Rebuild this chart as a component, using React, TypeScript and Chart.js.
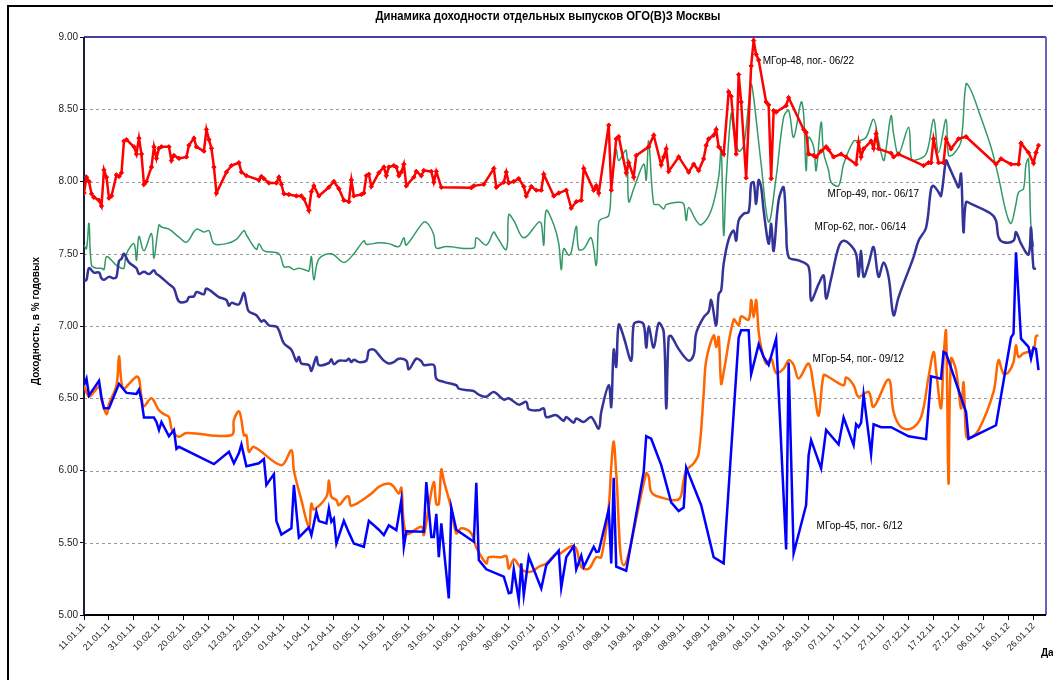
import React, { useEffect, useRef } from "react";
import { Chart, registerables } from "chart.js";

Chart.register(...registerables);

// x = days since 11.01.2011, y = yield, % p.a.
const START_YEAR = 2011;
const START_MONTH = 0;
const START_DAY = 11;
const X_MIN = 0;
const X_MAX = 385;
const X_STEP = 10;
const Y_MIN = 5;
const Y_MAX = 9;
const Y_STEP = 0.5;

const TITLE = "Динамика доходности отдельных выпусков ОГО(В)З Москвы";
const Y_TITLE = "Доходность, в % годовых";
const X_TITLE = "Дата";

const seriesNames = [
  "МГор-48, пог.- 06/22",
  "МГор-45, пог.- 6/12",
  "МГор-62, пог.- 06/14",
  "МГор-54, пог.- 09/12",
  "МГор-49, пог.- 06/17",
];

const m48: [number, number][] = [[0,7.92],[1,8.03],[2,8.00],[3,7.915],[4,7.89],[6,7.87],[7,7.83],[8,8.08],[9,8.03],[10,7.885],[11,7.90],[13,8.045],[14,8.035],[15,8.06],[16,8.28],[17,8.29],[20,8.24],[21,8.19],[22,8.30],[23,8.19],[24,7.98],[25,8.00],[27,8.10],[28,8.24],[29,8.16],[30,8.23],[31,8.24],[34,8.24],[35,8.145],[36,8.18],[38,8.16],[41,8.17],[42,8.25],[44,8.30],[45,8.24],[48,8.21],[49,8.36],[50,8.29],[51,8.23],[52,8.10],[53,7.92],[57,8.065],[59,8.11],[62,8.13],[63,8.065],[65,8.04],[70,8.01],[71,8.035],[72,8.02],[74,7.99],[77,7.99],[78,8.03],[79,7.98],[80,7.915],[82,7.91],[85,7.90],[87,7.90],[88,7.88],[90,7.80],[91,7.93],[92,7.97],[94,7.90],[98,7.96],[100,8.00],[102,7.95],[104,7.87],[106,7.86],[107,8.01],[108,7.90],[111,7.91],[112,7.92],[113,8.04],[114,8.05],[115,7.965],[118,8.06],[120,8.10],[121,8.04],[122,8.10],[124,8.11],[125,8.10],[126,8.04],[127,8.065],[128,8.12],[129,7.97],[132,8.03],[133,8.07],[135,8.04],[136,8.076],[139,8.07],[140,7.995],[141,8.07],[143,7.96],[155,7.956],[156,7.97],[160,7.98],[164,8.09],[165,7.96],[168,7.995],[169,8.065],[170,7.99],[172,8.00],[174,8.02],[176,7.965],[177,7.90],[179,7.965],[181,7.94],[183,7.94],[184,8.05],[188,7.90],[190,7.92],[193,7.94],[195,7.816],[197,7.86],[199,7.87],[200,8.09],[204,7.94],[205,7.97],[206,7.92],[210,8.39],[211,7.94],[213,8.295],[214,8.31],[217,8.06],[218,8.13],[220,8.03],[221,8.18],[226,8.24],[228,8.32],[231,8.115],[232,8.17],[233,8.226],[234,8.07],[238,8.17],[242,8.065],[244,8.12],[246,8.076],[248,8.157],[249,8.25],[250,8.295],[252,8.32],[253,8.36],[254,8.24],[256,8.19],[258,8.62],[259,8.59],[261,8.19],[262,8.74],[263,8.55],[265,8.025],[267,8.80],[268,8.975],[269,8.88],[270,8.84],[273,8.55],[274,8.53],[275,8.02],[276,8.49],[277,8.48],[281,8.525],[282,8.58],[288,8.36],[289,8.34],[290,8.19],[292,8.18],[293,8.17],[295,8.21],[297,8.24],[298,8.22],[300,8.17],[303,8.19],[305,8.17],[309,8.12],[310,8.27],[311,8.17],[312,8.226],[315,8.28],[316,8.23],[317,8.33],[318,8.226],[323,8.196],[324,8.17],[326,8.19],[336,8.11],[338,8.13],[339,8.13],[340,8.295],[342,8.13],[344,8.13],[345,8.295],[347,8.226],[350,8.295],[353,8.31],[365,8.12],[367,8.157],[371,8.12],[374,8.12],[375,8.265],[378,8.20],[380,8.127],[381,8.20],[382,8.25]];

const m49: [number, number][] = [[0,7.56],[1,7.535],[2,7.71],[3,7.42],[5,7.40],[7,7.40],[8,7.39],[9,7.48],[11,7.455],[13,7.42],[15,7.40],[16,7.40],[17,7.50],[20,7.57],[21,7.455],[22,7.62],[24,7.52],[27,7.64],[28,7.47],[30,7.70],[31,7.685],[34,7.67],[38,7.615],[41,7.58],[45,7.67],[48,7.65],[50,7.66],[52,7.57],[57,7.57],[61,7.60],[64,7.66],[65,7.63],[69,7.53],[70,7.57],[72,7.52],[78,7.50],[80,7.41],[82,7.41],[84,7.39],[86,7.40],[89,7.385],[90,7.38],[91,7.48],[92,7.32],[94,7.465],[99,7.50],[104,7.44],[108,7.50],[112,7.59],[113,7.565],[118,7.576],[122,7.57],[126,7.55],[128,7.61],[129,7.56],[136,7.72],[138,7.70],[140,7.63],[141,7.54],[145,7.55],[156,7.54],[157,7.61],[161,7.56],[164,7.65],[165,7.625],[169,7.53],[170,7.77],[172,7.73],[176,7.61],[182,7.72],[183,7.71],[184,7.56],[185,7.80],[188,7.70],[190,7.57],[191,7.39],[192,7.535],[194,7.49],[195,7.51],[197,7.69],[198,7.53],[200,7.535],[203,7.61],[205,7.42],[206,7.72],[207,7.74],[210,7.765],[211,7.96],[213,8.22],[214,8.145],[217,8.215],[218,7.86],[220,7.95],[224,8.12],[225,8.01],[226,8.28],[228,7.845],[230,7.84],[232,7.81],[233,7.84],[238,7.857],[240,7.845],[241,7.73],[242,7.82],[245,7.73],[247,7.70],[251,7.80],[254,8.03],[255,8.237],[256,7.627],[257,8.006],[259,8.47],[260,8.35],[262,8.21],[264,8.25],[266,8.54],[267,8.675],[268,8.58],[271,8.12],[274,7.72],[277,8.03],[280,8.445],[282,8.49],[284,8.306],[287,8.55],[288,8.47],[289,8.076],[290,8.306],[292,8.24],[293,8.076],[295,8.41],[296,8.20],[298,8.076],[299,7.995],[302,7.97],[304,8.12],[308,8.28],[310,8.28],[313,8.306],[316,8.43],[318,8.28],[320,8.145],[321,8.226],[323,8.456],[324,8.33],[326,8.19],[330,8.376],[331,8.17],[332,8.145],[337,8.19],[340,8.43],[342,8.20],[345,8.43],[346,8.18],[348,8.19],[351,8.28],[353,8.675],[355,8.63],[358,8.49],[363,8.237],[366,8.03],[369,7.79],[371,7.71],[373,7.845],[374,7.925],[376,7.95],[377,8.12],[378,8.157],[379,7.68],[380,7.55]];

const m62: [number, number][] = [[0,7.31],[1,7.32],[2,7.40],[4,7.37],[6,7.37],[7,7.33],[8,7.32],[10,7.34],[12,7.33],[13,7.34],[14,7.45],[15,7.465],[16,7.50],[18,7.44],[21,7.40],[22,7.36],[24,7.375],[26,7.36],[28,7.385],[29,7.36],[30,7.35],[34,7.29],[36,7.26],[38,7.17],[41,7.17],[42,7.20],[44,7.205],[45,7.235],[48,7.22],[49,7.26],[54,7.20],[57,7.18],[58,7.14],[59,7.16],[62,7.15],[64,7.23],[65,7.155],[66,7.10],[69,7.075],[71,7.03],[72,7.04],[74,7.005],[77,6.995],[78,6.97],[80,6.88],[83,6.836],[85,6.756],[86,6.786],[87,6.74],[90,6.73],[91,6.69],[93,6.786],[94,6.73],[98,6.744],[99,6.77],[100,6.735],[102,6.76],[105,6.76],[106,6.774],[107,6.75],[108,6.767],[110,6.75],[113,6.76],[114,6.83],[116,6.836],[118,6.80],[120,6.76],[122,6.74],[124,6.75],[126,6.774],[129,6.76],[130,6.70],[133,6.774],[135,6.756],[136,6.73],[140,6.73],[141,6.636],[144,6.613],[149,6.59],[150,6.567],[154,6.555],[156,6.55],[158,6.525],[161,6.51],[164,6.544],[168,6.49],[170,6.50],[174,6.456],[177,6.475],[178,6.424],[182,6.417],[184,6.43],[185,6.37],[189,6.383],[192,6.343],[193,6.37],[196,6.33],[197,6.36],[200,6.336],[203,6.37],[206,6.29],[207,6.405],[210,6.59],[211,6.44],[212,6.836],[213,6.717],[214,7.01],[216,6.924],[219,6.76],[220,7.01],[222,7.03],[224,7.01],[225,6.85],[226,6.998],[228,6.85],[230,7.02],[232,6.96],[233,6.43],[234,6.924],[235,6.93],[238,6.84],[242,6.76],[244,6.80],[245,6.95],[248,7.06],[250,7.10],[251,7.18],[253,7.005],[254,7.22],[255,7.246],[256,7.43],[258,7.60],[260,7.66],[261,7.59],[262,7.73],[264,7.777],[266,7.79],[267,7.985],[268,7.995],[269,7.845],[270,8.01],[271,7.96],[272,7.80],[274,7.57],[275,7.707],[276,7.52],[278,7.87],[280,7.96],[281,7.68],[282,7.477],[286,7.454],[290,7.41],[291,7.177],[294,7.29],[296,7.35],[297,7.19],[299,7.327],[302,7.546],[304,7.59],[307,7.557],[309,7.50],[310,7.343],[311,7.52],[312,7.34],[314,7.43],[316,7.546],[318,7.34],[320,7.44],[322,7.34],[324,7.074],[326,7.20],[332,7.477],[334,7.59],[337,7.68],[339,7.95],[340,7.97],[342,7.926],[343,7.90],[345,8.145],[346,8.11],[349,7.995],[350,7.96],[351,8.053],[352,7.65],[353,7.857],[355,7.845],[363,7.777],[365,7.73],[366,7.615],[368,7.58],[372,7.59],[373,7.65],[375,7.57],[378,7.495],[379,7.68],[380,7.40],[381,7.396]];

const m54: [number, number][] = [[0,6.59],[2,6.51],[4,6.544],[6,6.58],[7,6.49],[9,6.39],[10,6.46],[13,6.59],[14,6.79],[15,6.61],[16,6.567],[18,6.60],[21,6.65],[22,6.636],[23,6.51],[24,6.445],[27,6.50],[30,6.417],[32,6.39],[34,6.37],[35,6.29],[36,6.26],[38,6.233],[41,6.26],[59,6.244],[60,6.35],[62,6.41],[63,6.35],[64,6.244],[65,6.244],[66,6.13],[68,6.164],[79,6.037],[83,6.14],[84,6.00],[87,5.795],[90,5.61],[91,5.77],[92,5.73],[97,5.818],[98,5.93],[99,5.818],[101,5.795],[102,5.76],[105,5.818],[106,5.818],[107,5.756],[115,5.84],[118,5.887],[122,5.91],[124,5.887],[126,5.84],[127,5.88],[129,5.565],[135,5.61],[136,5.553],[138,5.75],[140,5.92],[141,5.767],[142,5.767],[143,6.007],[144,5.93],[147,5.737],[149,5.565],[151,5.60],[155,5.565],[157,5.468],[161,5.357],[162,5.40],[167,5.40],[169,5.408],[170,5.32],[172,5.385],[174,5.345],[176,5.306],[179,5.30],[182,5.334],[185,5.357],[189,5.426],[190,5.42],[195,5.477],[197,5.46],[199,5.334],[202,5.32],[205,5.40],[207,5.40],[210,5.75],[211,6.025],[212,6.20],[213,5.98],[216,5.345],[225,5.98],[226,5.96],[227,5.853],[230,5.818],[238,5.80],[240,5.933],[241,6.00],[244,6.05],[246,6.118],[248,6.53],[249,6.76],[252,6.935],[253,6.855],[254,6.924],[255,6.60],[256,6.68],[260,7.044],[262,7.005],[263,7.067],[266,7.044],[267,7.18],[268,7.06],[269,7.18],[270,6.96],[271,6.855],[273,6.74],[275,6.775],[277,6.675],[280,6.705],[282,6.763],[284,6.73],[286,6.636],[290,6.74],[292,6.58],[294,6.38],[296,6.66],[298,6.647],[304,6.59],[305,6.643],[308,6.59],[310,6.51],[314,6.544],[316,6.44],[322,6.63],[324,6.405],[327,6.30],[331,6.29],[335,6.37],[338,6.647],[340,6.82],[341,6.694],[343,6.43],[344,6.774],[345,6.965],[346,5.91],[347,6.774],[349,6.694],[351,6.43],[352,6.61],[353,6.244],[354,6.22],[358,6.28],[364,6.544],[366,6.763],[368,6.67],[370,6.68],[372,6.75],[373,6.866],[374,6.786],[376,6.81],[380,6.84],[381,6.93],[382,6.935]];

const m45: [number, number][] = [[0,6.59],[1,6.636],[2,6.52],[4,6.57],[6,6.62],[7,6.505],[8,6.43],[10,6.43],[14,6.60],[17,6.537],[21,6.53],[22,6.56],[23,6.486],[24,6.366],[28,6.366],[29,6.336],[30,6.28],[31,6.336],[34,6.237],[36,6.28],[37,6.15],[38,6.164],[52,6.044],[58,6.13],[60,6.05],[62,6.12],[63,6.18],[65,6.03],[70,6.05],[72,6.08],[73,5.90],[76,5.975],[77,5.65],[79,5.557],[83,5.60],[84,5.90],[86,5.537],[90,5.606],[91,5.553],[93,5.714],[94,5.65],[97,5.634],[98,5.737],[99,5.645],[100,5.668],[101,5.495],[104,5.652],[106,5.57],[108,5.495],[112,5.472],[114,5.652],[118,5.59],[120,5.553],[122,5.62],[125,5.587],[127,5.795],[128,5.472],[129,5.58],[136,5.576],[137,5.92],[139,5.54],[140,5.54],[141,5.70],[142,5.40],[143,5.634],[146,5.115],[147,5.744],[149,5.59],[156,5.507],[157,5.915],[158,5.38],[161,5.316],[168,5.265],[170,5.15],[171,5.155],[172,5.316],[174,5.104],[175,5.357],[176,5.138],[178,5.403],[183,5.184],[185,5.345],[190,5.445],[191,5.19],[193,5.40],[196,5.477],[197,5.316],[199,5.41],[200,5.334],[204,5.472],[205,5.437],[206,5.44],[210,5.73],[211,5.357],[212,5.95],[213,5.334],[217,5.306],[224,5.99],[225,6.237],[227,6.22],[231,6.037],[235,5.78],[238,5.72],[240,5.744],[241,6.02],[247,5.76],[252,5.40],[256,5.357],[262,6.92],[263,6.97],[266,6.97],[267,6.666],[270,6.873],[272,6.786],[274,6.73],[277,6.912],[281,5.454],[282,6.747],[284,5.426],[289,5.76],[290,6.106],[291,6.21],[295,6.014],[297,6.28],[302,6.18],[304,6.366],[308,6.175],[309,6.32],[310,6.30],[311,6.33],[312,6.525],[315,6.113],[316,6.32],[319,6.30],[323,6.30],[330,6.237],[337,6.217],[339,6.652],[343,6.636],[344,6.82],[345,6.81],[353,6.405],[354,6.22],[365,6.313],[371,6.92],[372,6.947],[373,7.51],[375,6.912],[378,6.855],[379,6.774],[380,6.85],[381,6.84],[382,6.694]];

const seriesData = [m48, m45, m62, m54, m49];
const seriesColors = ["#FF0000", "#0000FF", "#333399", "#FF6600", "#339966"];
const seriesWidths = [2.5, 2.5, 2.5, 2.5, 1.5];
const seriesTension = [0, 0, 0.35, 0.35, 0.35];
const seriesMarkers = [true, false, false, false, false];
// label anchor in data units: [day, yield]
const labelAnchors: [number, number][] = [
  [271.6, 8.83],
  [293.2, 5.616],
  [292.4, 7.68],
  [291.6, 6.77],
  [297.6, 7.91],
];

function fmtDate(n: number): string {
  const d = new Date(START_YEAR, START_MONTH, START_DAY + Math.round(n));
  const dd = String(d.getDate()).padStart(2, "0");
  const mm = String(d.getMonth() + 1).padStart(2, "0");
  const yy = String(d.getFullYear() % 100).padStart(2, "0");
  return `${dd}.${mm}.${yy}`;
}

const FONT = "'Liberation Sans', Arial, sans-serif";

const decorPlugin = {
  id: "decor",
  beforeDraw(chart: any) {
    const ctx = chart.ctx as CanvasRenderingContext2D;
    ctx.save();
    ctx.fillStyle = "#ffffff";
    ctx.fillRect(0, 0, chart.width, chart.height);
    // outer frame
    ctx.strokeStyle = "#000000";
    ctx.lineWidth = 2;
    ctx.beginPath();
    ctx.moveTo(8, chart.height + 10);
    ctx.lineTo(8, 6);
    ctx.lineTo(chart.width + 10, 6);
    ctx.stroke();
    // title
    ctx.fillStyle = "#000000";
    ctx.font = `bold 12px ${FONT}`;
    ctx.textBaseline = "middle";
    ctx.textAlign = "center";
    const tw = ctx.measureText(TITLE).width;
    const sx = 345 / tw;
    ctx.save();
    ctx.translate(548, 17);
    ctx.scale(sx, 1);
    ctx.fillText(TITLE, 0, 0);
    ctx.restore();
    // y title
    ctx.save();
    ctx.font = `bold 10px ${FONT}`;
    ctx.translate(36, 321);
    ctx.rotate(-Math.PI / 2);
    ctx.fillText(Y_TITLE, 0, 0);
    ctx.restore();
    // x title (cut by the edge)
    ctx.font = `bold 10px ${FONT}`;
    ctx.textAlign = "left";
    ctx.fillText(X_TITLE, 1041, 653);
    ctx.restore();
  },
  beforeDatasetsDraw(chart: any) {
    const ctx = chart.ctx as CanvasRenderingContext2D;
    const a = chart.chartArea;
    const ys = chart.scales.y;
    ctx.save();
    ctx.strokeStyle = "#9a9a9a";
    ctx.lineWidth = 1;
    ctx.setLineDash([3, 3]);
    for (let v = Y_MIN + Y_STEP; v < Y_MAX - 1e-6; v += Y_STEP) {
      const y = Math.round(ys.getPixelForValue(v)) + 0.5;
      ctx.beginPath();
      ctx.moveTo(a.left, y);
      ctx.lineTo(a.right, y);
      ctx.stroke();
    }
    ctx.setLineDash([]);
    // plot borders
    ctx.strokeStyle = "#000080";
    ctx.lineWidth = 1.5;
    ctx.beginPath();
    ctx.moveTo(a.left, a.top);
    ctx.lineTo(a.right, a.top);
    ctx.stroke();
    ctx.strokeStyle = "#6464c4";
    ctx.lineWidth = 2;
    ctx.beginPath();
    ctx.moveTo(a.right, a.top);
    ctx.lineTo(a.right, a.bottom);
    ctx.stroke();
    ctx.strokeStyle = "#1c1c3c";
    ctx.lineWidth = 2;
    ctx.beginPath();
    ctx.moveTo(a.left, a.top);
    ctx.lineTo(a.left, a.bottom);
    ctx.stroke();
    ctx.strokeStyle = "#000000";
    ctx.beginPath();
    ctx.moveTo(a.left, a.bottom);
    ctx.lineTo(a.right, a.bottom);
    ctx.stroke();
    ctx.restore();
  },
  afterDatasetsDraw(chart: any) {
    const ctx = chart.ctx as CanvasRenderingContext2D;
    const xs = chart.scales.x;
    const ys = chart.scales.y;
    ctx.save();
    ctx.fillStyle = "#000000";
    ctx.font = `10px ${FONT}`;
    ctx.textAlign = "left";
    ctx.textBaseline = "middle";
    seriesNames.forEach((name, i) => {
      const [dx, dy] = labelAnchors[i];
      ctx.fillText(name, xs.getPixelForValue(dx), ys.getPixelForValue(dy));
    });
    ctx.restore();
  },
};

export default function App() {
  const ref = useRef<HTMLCanvasElement | null>(null);
  useEffect(() => {
    if (!ref.current) return;
    const datasets = seriesData.map((s, i) => ({
      label: seriesNames[i],
      data: s.map(([x, y]) => ({ x, y })),
      borderColor: seriesColors[i],
      backgroundColor: seriesColors[i],
      borderWidth: seriesWidths[i],
      tension: seriesTension[i],
      pointRadius: seriesMarkers[i] ? 2.2 : 0,
      pointStyle: "rectRot",
      pointBorderWidth: 1,
      pointBorderColor: seriesColors[i],
      pointBackgroundColor: seriesColors[i],
      fill: false,
      order: i,
    }));
    const chart = new Chart(ref.current, {
      type: "line",
      data: { datasets },
      plugins: [decorPlugin],
      options: {
        animation: false,
        responsive: false,
        maintainAspectRatio: false,
        devicePixelRatio: 1,
        layout: { padding: { top: 37, right: 7, left: 0, bottom: 0 } },
        plugins: {
          legend: { display: false },
          tooltip: { enabled: false },
          title: { display: false },
        },
        scales: {
          x: {
            type: "linear",
            min: X_MIN,
            max: X_MAX,
            grid: { display: true, drawOnChartArea: false, drawTicks: true, tickLength: 5, color: "#000", lineWidth: 1 },
            border: { display: false },
            ticks: {
              stepSize: X_STEP,
              includeBounds: false,
              autoSkip: false,
              minRotation: 45,
              maxRotation: 45,
              padding: 1,
              color: "#222",
              font: { family: FONT, size: 9 },
              callback: (v: any) => fmtDate(Number(v)),
            },
            afterFit: (scale: any) => {
              scale.height = 65;
              scale.paddingLeft = 0;
              scale.paddingRight = 0;
            },
          },
          y: {
            type: "linear",
            min: Y_MIN,
            max: Y_MAX,
            grid: { display: true, drawOnChartArea: false, drawTicks: true, tickLength: 4, color: "#000", lineWidth: 1 },
            border: { display: false },
            ticks: {
              stepSize: Y_STEP,
              padding: 2,
              color: "#222",
              font: { family: FONT, size: 10 },
              callback: (v: any) => Number(v).toFixed(2),
            },
            afterFit: (scale: any) => {
              scale.width = 84;
              scale.paddingTop = 0;
              scale.paddingBottom = 0;
            },
          },
        },
      },
    } as any);
    return () => chart.destroy();
  }, []);
  return (
    <div style={{ position: "fixed", left: 0, top: 0, width: 1053, height: 680, background: "#fff" }}>
      <canvas ref={ref} width={1053} height={680} style={{ width: 1053, height: 680, display: "block" }} />
    </div>
  );
}
